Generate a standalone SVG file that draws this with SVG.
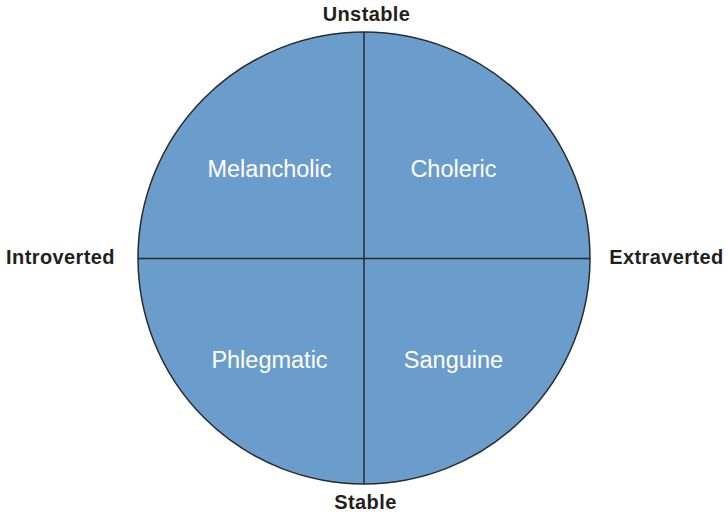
<svg xmlns="http://www.w3.org/2000/svg" width="728" height="513" viewBox="0 0 728 513">
<style>
.axis{font-family:"Liberation Sans",Arial,sans-serif;font-weight:bold;font-size:20px;letter-spacing:0.4px;fill:#231f20;text-anchor:middle}
.quad{font-family:"Liberation Sans",Arial,sans-serif;font-size:23.5px;fill:#ffffff;text-anchor:middle}
.ln{stroke:#2a2a2a;stroke-width:1.5;fill:none}
</style>
<rect width="728" height="513" fill="#ffffff"/>
<g id="circle">
<circle cx="364" cy="258" r="226" fill="#6a9dcc" stroke="#2a2a2a" stroke-width="1.5"/>
</g>
<g id="connectors">
<line class="ln" x1="364" y1="32" x2="364" y2="484"/>
<line class="ln" x1="138" y1="258.5" x2="590" y2="258.5"/>
</g>
<g id="melancholic"><text class="quad" x="269.5" y="177">Melancholic</text></g>
<g id="choleric"><text class="quad" x="453.5" y="177">Choleric</text></g>
<g id="phlegmatic"><text class="quad" x="269.5" y="368">Phlegmatic</text></g>
<g id="sanguine"><text class="quad" x="453.5" y="368">Sanguine</text></g>
<g id="unstable"><text class="axis" x="366.5" y="20.5">Unstable</text></g>
<g id="stable"><text class="axis" x="365.5" y="508.5">Stable</text></g>
<g id="introverted"><text class="axis" x="60.5" y="263.5">Introverted</text></g>
<g id="extraverted"><text class="axis" x="666.5" y="263.5">Extraverted</text></g>
</svg>
